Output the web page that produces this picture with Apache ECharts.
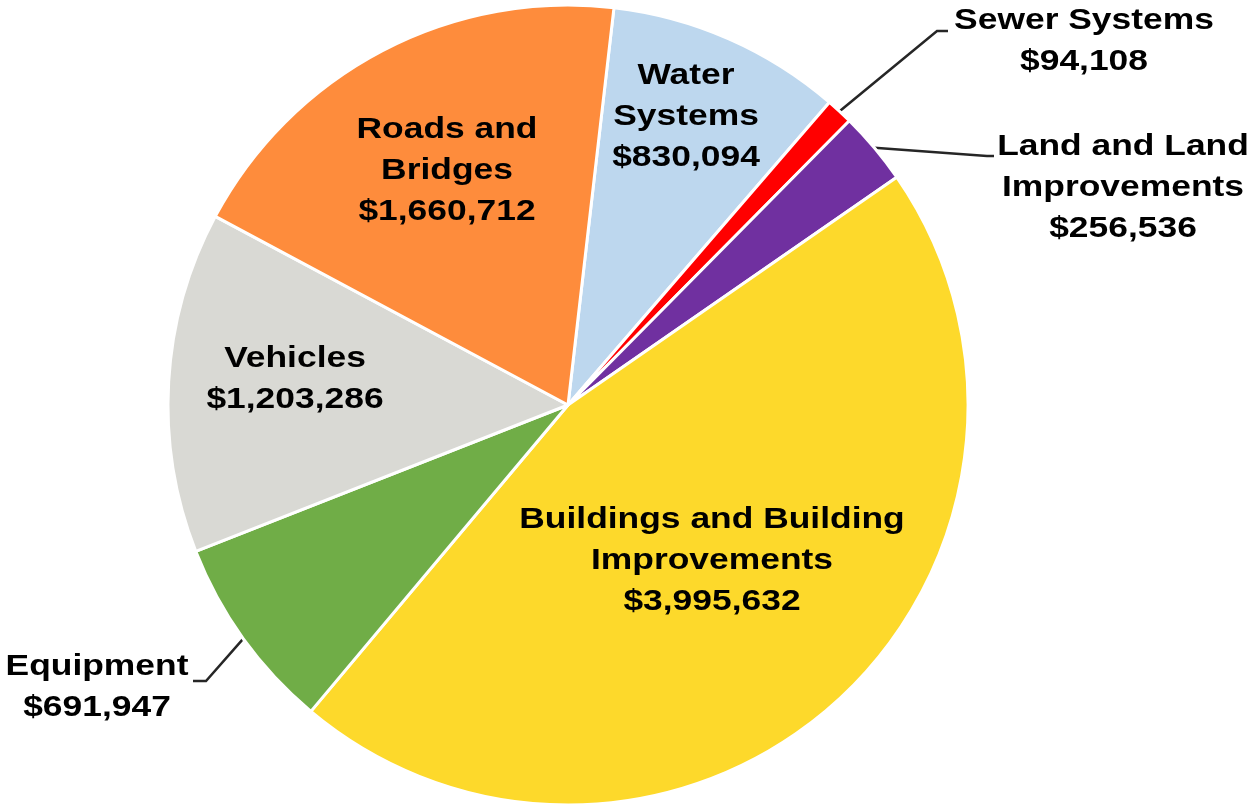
<!DOCTYPE html>
<html>
<head>
<meta charset="utf-8">
<script src="https://cdn.jsdelivr.net/npm/echarts@6/dist/echarts.min.js"></script>
<style>
  html, body { margin: 0; padding: 0; background: #ffffff; }
  #chart { width: 1255px; height: 808px; }
</style>
</head>
<body>
<div id="chart"></div>
<script>
// Capital assets by class (dollars), clockwise from the top
const categories = [
  'Water Systems',
  'Sewer Systems',
  'Land and Land Improvements',
  'Buildings and Building Improvements',
  'Equipment',
  'Vehicles',
  'Roads and Bridges'
];
const values = [830094, 94108, 256536, 3995632, 691947, 1203286, 1660712];

// How each category name is broken over lines in its label
const nameLines = [
  ['Water', 'Systems'],
  ['Sewer Systems'],
  ['Land and Land', 'Improvements'],
  ['Buildings and Building', 'Improvements'],
  ['Equipment'],
  ['Vehicles'],
  ['Roads and', 'Bridges']
];

const colors = ['#BDD7EE', '#FF0000', '#7030A0', '#FDD92B', '#70AD47', '#D9D9D4', '#FE8C3C'];

// Label anchors (centre of each text block) and leader-line bends
const labelCenters = [
  [686, 117], [1084, 41], [1123, 188], [712, 561], [97, 687], [295, 379], [447, 171]
];
const leaderBends = {
  1: [[937, 31], [948, 31]],
  2: [[987, 156], [994, 156]],
  4: [[206, 681], [193, 681]]
};

// Horizontally widened bold label face
(function () {
  const SX = 1.18;
  const P = window.CanvasRenderingContext2D && CanvasRenderingContext2D.prototype;
  if (!P) return;
  const fillText = P.fillText, measureText = P.measureText;
  P.fillText = function (t, x, y) {
    this.save();
    this.translate(x, y);
    this.scale(SX, 1);
    fillText.call(this, t, 0, 0);
    this.restore();
  };
  P.measureText = function (t) {
    const m = measureText.call(this, t);
    return {
      width: m.width * SX,
      actualBoundingBoxLeft: m.actualBoundingBoxLeft * SX,
      actualBoundingBoxRight: m.actualBoundingBoxRight * SX,
      actualBoundingBoxAscent: m.actualBoundingBoxAscent,
      actualBoundingBoxDescent: m.actualBoundingBoxDescent,
      fontBoundingBoxAscent: m.fontBoundingBoxAscent,
      fontBoundingBoxDescent: m.fontBoundingBoxDescent
    };
  };
})();

const fmt = v => '$' + v.toLocaleString('en-US');
const outside = i => Object.prototype.hasOwnProperty.call(leaderBends, i);

const data = categories.map((name, i) => ({
  name: name,
  value: values[i],
  itemStyle: { color: colors[i] },
  label: { position: outside(i) ? 'outside' : 'inside' },
  labelLine: { show: outside(i) }
}));

const chart = echarts.init(document.getElementById('chart'), null, { renderer: 'canvas' });

chart.setOption({
  animation: false,
  backgroundColor: '#ffffff',
  series: [{
    type: 'pie',
    center: [568, 405],
    radius: [0, 400],
    startAngle: 83.4,
    clockwise: true,
    avoidLabelOverlap: false,
    itemStyle: { borderColor: '#ffffff', borderWidth: 3 },
    label: {
      show: true,
      formatter: p => nameLines[p.dataIndex].join('\n') + '\n' + fmt(p.value),
      color: '#000000',
      fontFamily: 'Liberation Sans, Arial, sans-serif',
      fontWeight: 'bold',
      fontSize: 30,
      lineHeight: 41,
      align: 'center'
    },
    labelLine: {
      show: false,
      lineStyle: { color: '#262626', width: 2.5 }
    },
    labelLayout: function (params) {
      const i = params.dataIndex;
      const c = labelCenters[i];
      const out = { x: c[0], y: c[1], align: 'center', verticalAlign: 'middle' };
      if (outside(i) && params.labelLinePoints) {
        out.labelLinePoints = [params.labelLinePoints[0]].concat(leaderBends[i]);
      }
      return out;
    },
    emphasis: { disabled: true },
    data: data
  }]
});
</script>
</body>
</html>
